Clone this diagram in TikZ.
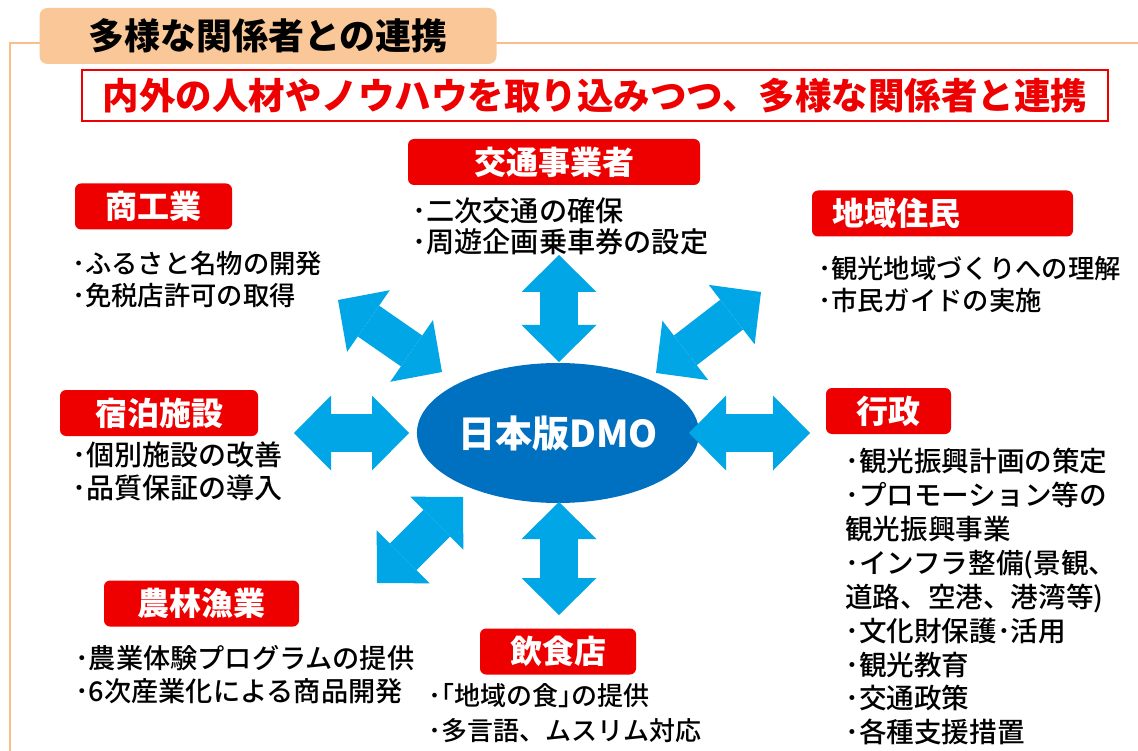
\documentclass[tikz,border=0pt]{standalone}
\usepackage{fontspec}
\setmainfont{Noto Sans CJK JP}
\newfontfamily\jpfont{Noto Sans CJK JP}
\newfontfamily\jpmed{Noto Sans CJK JP Medium}
\usepackage{tikz}
\usetikzlibrary{shapes.geometric, arrows.meta, positioning}

\definecolor{frameorange}{RGB}{248,192,135}
\definecolor{tabpeach}{RGB}{250,200,152}
\definecolor{lblred}{RGB}{238,0,0}
\definecolor{dmoblue}{RGB}{0,112,192}
\definecolor{arrowblue}{RGB}{0,166,230}

\tikzset{
  lbl/.style={fill=lblred, rounded corners=6pt, text=white, minimum height=46pt, inner sep=0pt, font=\jpfont\bfseries\fontsize{32}{32}\selectfont},
  body/.style={anchor=north west, inner sep=0pt, align=left, font=\jpmed\fontsize{#1}{33}\selectfont},
  body/.default=26.3,
  link/.style={arrowblue, line width=37.5pt, {Triangle[length=37pt,width=75pt,line width=0pt]}-{Triangle[length=37pt,width=75pt,line width=0pt]}},
}

\begin{document}
\begin{tikzpicture}[x=1pt, y=-1pt]
        \fill[white] (0,0) rectangle (1138,751);
        \useasboundingbox (0,0) rectangle (1138,751);
        % Marco y encabezado
        \draw[frameorange, line width=2pt] (10,751) -- (10,43) -- (1138,43);
        \node[fill=tabpeach, rounded corners=8pt, minimum width=457pt, minimum height=56pt, inner sep=0pt, font=\jpfont\bfseries\fontsize{36}{36}\selectfont] (midashi) at (268,36) {多様な関係者との連携};
        \node[draw=lblred, line width=2.5pt, fill=white, minimum width=1026pt, minimum height=51pt, inner sep=0pt, text=lblred, font=\jpfont\bfseries\fontsize{36.5}{36.5}\selectfont] (banner) at (595,95.5) {内外の人材やノウハウを取り込みつつ、多様な関係者と連携};
        % Centro
        \node[ellipse, fill=dmoblue, minimum width=264pt, minimum height=140pt, inner sep=0pt, text=white, font=\jpfont\bfseries\fontsize{37}{37}\selectfont] (dmo) at (558,433) {日本版DMO};
        % Etiquetas
        \node[lbl, minimum width=292pt] (kotsu) at (554,162) {交通事業者};
        \node[lbl, minimum width=157pt] (shoko) at (153.5,206.5) {商工業};
        \node[lbl, text width=221pt, inner xsep=20pt, align=left] (chiiki) at (942.5,213.5) {地域住民};
        \node[lbl, minimum width=198pt] (shukuhaku) at (159,413) {宿泊施設};
        \node[lbl, minimum width=125pt] (gyosei) at (888.5,411) {行政};
        \node[lbl, minimum width=195pt] (norin) at (201.5,603.5) {農林漁業};
        \node[lbl, minimum width=156pt] (inshoku) at (558,651.5) {飲食店};
        % Textos
        \node[body=28.2, font=\jpmed\fontsize{28.2}{31}\selectfont] (kotsuTxt) at (412,197) {･二次交通の確保\\･周遊企画乗車券の設定};
        \node[body, font=\jpmed\fontsize{26.3}{32}\selectfont] (shokoTxt) at (72,251) {･ふるさと名物の開発\\･免税店許可の取得};
        \node[body, font=\jpmed\fontsize{26.3}{32}\selectfont] (chiikiTxt) at (818,256) {･観光地域づくりへの理解\\･市民ガイドの実施};
        \node[body=28] (shukuhakuTxt) at (72,442) {･個別施設の改善\\･品質保証の導入};
        \node[body=27.6, font=\jpmed\fontsize{27.6}{33.9}\selectfont] (gyoseiTxt) at (845,448) {･観光振興計画の策定\\･プロモーション等の\\観光振興事業\\･インフラ整備(景観、\\道路、空港、港湾等)\\･文化財保護･活用\\･観光教育\\･交通政策\\･各種支援措置};
        \node[body=27.2] (norinTxt) at (75,645) {･農業体験プログラムの提供\\･6次産業化による商品開発};
        \node[body, font=\jpmed\fontsize{26}{35}\selectfont] (inshokuTxt) at (428,683) {･｢地域の食｣の提供\\･多言語、ムスリム対応};
        % Flechas
        \coordinate (kotsuEnd) at (559,255);
        \coordinate (kotsuIn) at (559,362);
        \coordinate (inshokuIn) at (559,502);
        \coordinate (inshokuEnd) at (559,615);
        \coordinate (shukuhakuEnd) at (294,433);
        \coordinate (shukuhakuIn) at (409,433);
        \coordinate (gyoseiIn) at (689,433);
        \coordinate (gyoseiEnd) at (810,433);
        \coordinate (shokoEnd) at (338,300);
        \coordinate (shokoIn) at (442,372);
        \coordinate (chiikiEnd) at (761,292);
        \coordinate (chiikiIn) at (656,373);
        \coordinate (norinIn) at (463,497);
        \coordinate (norinEnd) at (377,583);
        \draw[link] (kotsuEnd) -- (kotsuIn);
        \draw[link] (inshokuIn) -- (inshokuEnd);
        \draw[link] (shukuhakuEnd) -- (shukuhakuIn);
        \draw[link] (gyoseiIn) -- (gyoseiEnd);
        \draw[link] (shokoEnd) -- (shokoIn);
        \draw[link] (chiikiIn) -- (chiikiEnd);
        \draw[link] (norinIn) -- (norinEnd);
    \end{tikzpicture}
\end{document}
